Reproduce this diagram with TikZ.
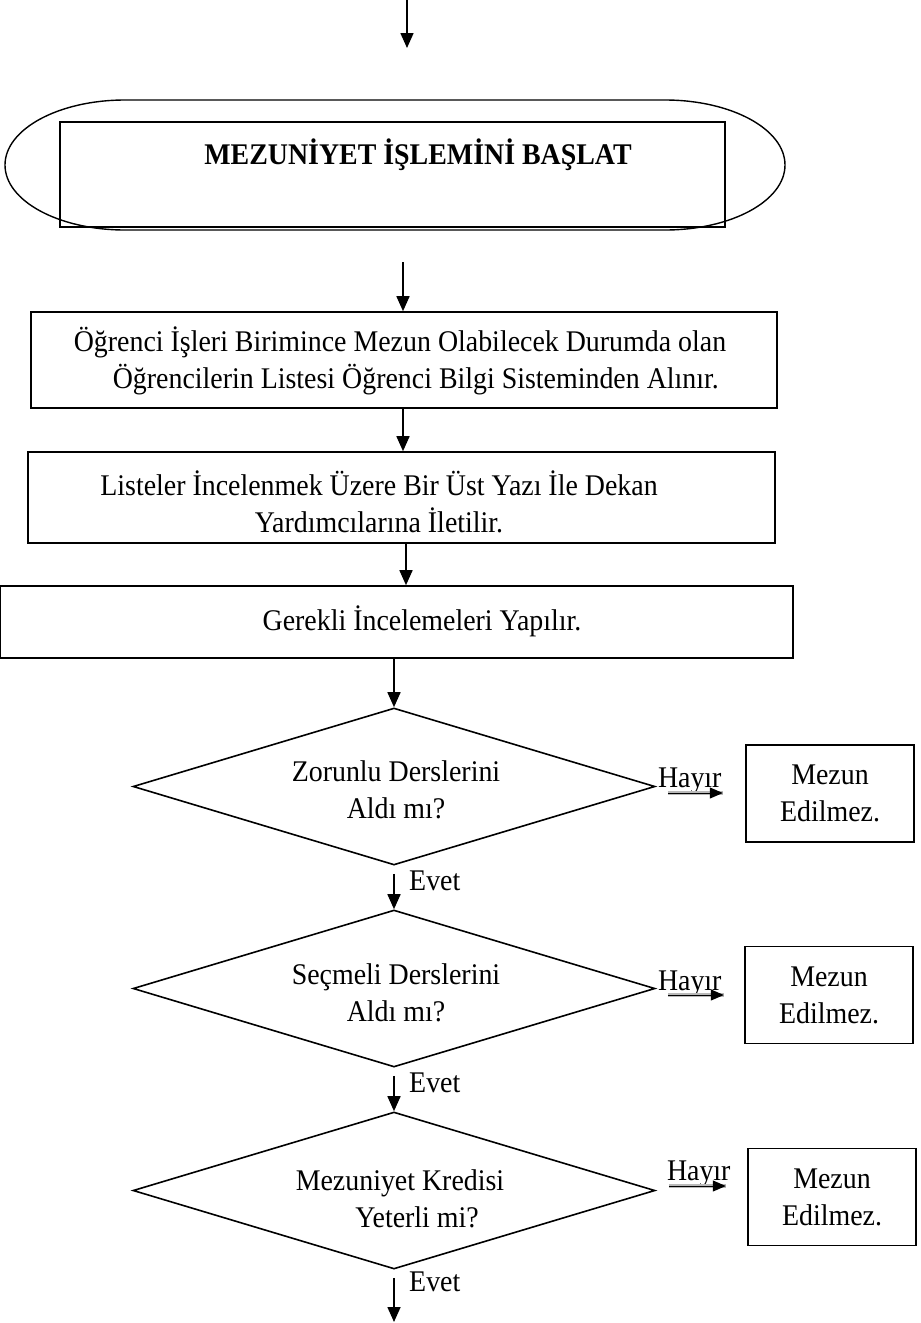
\documentclass[tikz,border=0pt]{standalone}
\usepackage{fontspec}
\setmainfont{Liberation Serif}[FakeStretch=0.93]
\usetikzlibrary{arrows.meta,shapes.geometric}
\newcommand\flowfont{\fontsize{30}{37}\selectfont}
\begin{document}
\begin{tikzpicture}[x=1pt,y=1pt,
  box/.style={draw, line width=1.6pt, inner sep=0pt},
  txt/.style={font=\flowfont, inner sep=0pt},
  arr/.style={line width=1.6pt, -{Triangle[length=15pt,width=13pt]}},
  harr/.style={line width=1pt, -{Triangle[length=13pt,width=11pt]},
    preaction={draw, gray!55, line width=3.2pt, -}},
  decision/.style={diamond, draw, line width=1.6pt, inner sep=0pt,
    minimum width=522pt, minimum height=157pt},
  result/.style={box, font=\flowfont, align=center,
    minimum width=168pt, minimum height=97pt}]
\useasboundingbox (0,0) rectangle (921,-1323);

% incoming arrow
\coordinate (s0) at (407,0);
\coordinate (s1) at (407,-48);
\draw[arr] (s0) -- (s1);

% start terminal: elongated oval with a box inside
\draw[line width=1.4pt] (125,-100) -- (665,-100)
  arc[start angle=90, end angle=-90, x radius=120, y radius=65]
  -- (125,-230)
  arc[start angle=270, end angle=90, x radius=120, y radius=65] -- cycle;
\node[box, minimum width=665pt, minimum height=105pt] (start) at (392.5,-174.5) {};
\node[txt, font=\flowfont\bfseries] (starttxt) at (418,-155) {MEZUNİYET İŞLEMİNİ BAŞLAT};

% process steps
\node[box, minimum width=746pt, minimum height=96pt] (b1) at (404,-360) {};
\node[txt, align=left] (b1txt) at (400,-361)
  {Öğrenci İşleri Birimince Mezun Olabilecek Durumda olan\\
   \hspace*{39pt}Öğrencilerin Listesi Öğrenci Bilgi Sisteminden Alınır.};

\node[box, minimum width=747pt, minimum height=91pt] (b2) at (401.5,-497.5) {};
\node[txt, align=center] (b2txt) at (379,-502)
  {Listeler İncelenmek Üzere Bir Üst Yazı İle Dekan\\
   Yardımcılarına İletilir.};

\node[box, minimum width=793pt, minimum height=72pt] (b3) at (396.5,-622) {};
\node[txt] (b3txt) at (422,-621) {Gerekli İncelemeleri Yapılır.};

% decisions
\node[decision] (d1) at (394,-786.5) {};
\node[txt, align=center] (d1txt) at (396,-790) {Zorunlu Derslerini\\Aldı mı?};
\node[decision] (d2) at (394,-988.5) {};
\node[txt, align=center] (d2txt) at (396,-993) {Seçmeli Derslerini\\Aldı mı?};
\node[decision] (d3) at (394,-1190.5) {};
\node[txt, align=center] (d3txt) at (400,-1199) {Mezuniyet Kredisi\\\hspace*{34pt}Yeterli mi?};

% negative outcomes
\node[result] (m1) at (830,-793.5) {Mezun\\Edilmez.};
\node[result] (m2) at (829,-995) {Mezun\\Edilmez.};
\node[result] (m3) at (832,-1197) {Mezun\\Edilmez.};

% main flow arrows
\coordinate (e0) at (403,-262);
\draw[arr] (e0) -- (e0 |- b1.north);
\draw[arr] ([xshift=-1pt]b1.south) -- ([xshift=-1pt]b1.south |- b2.north);
\draw[arr] ([xshift=4.5pt]b2.south) -- ([xshift=4.5pt]b2.south |- b3.north);
\draw[arr] (d1.north |- b3.south) -- (d1.north);
\draw[arr] ([yshift=-8pt]d1.south) -- (d2.north);
\draw[arr] ([yshift=-8pt]d2.south) -- (d3.north);
\coordinate (end) at (394,-1322);
\draw[arr] ([yshift=-8pt]d3.south) -- (end);

% yes labels
\node[txt, anchor=west] (y1) at ([shift={(15pt,-15pt)}]d1.south) {Evet};
\node[txt, anchor=west] (y2) at ([shift={(15pt,-15pt)}]d2.south) {Evet};
\node[txt, anchor=west] (y3) at ([shift={(15pt,-12pt)}]d3.south) {Evet};

% no branches
\node[txt, anchor=base west] (n1) at ([shift={(2pt,-0.5pt)}]d1.east) {Hayır};
\node[txt, anchor=base west] (n2) at ([shift={(2pt,-1.5pt)}]d2.east) {Hayır};
\node[txt, anchor=base west] (n3) at ([shift={(11pt,10.5pt)}]d3.east) {Hayır};
\draw[harr] ([shift={(12pt,-6.5pt)}]d1.east) -- ++(55pt,0pt);
\draw[harr] ([shift={(12pt,-6.5pt)}]d2.east) -- ++(56pt,0pt);
\draw[harr] ([shift={(13pt,4.5pt)}]d3.east) -- ++(57pt,0pt);
\end{tikzpicture}
\end{document}
